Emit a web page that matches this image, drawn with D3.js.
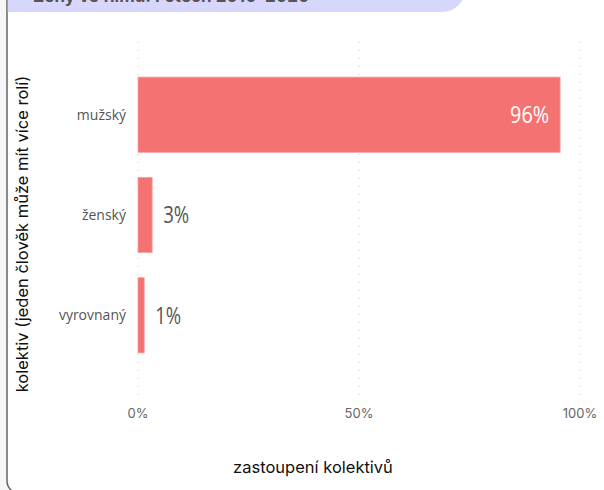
<!DOCTYPE html>
<html>
<head>
<meta charset="utf-8">
<script src="https://cdn.jsdelivr.net/npm/d3@7"></script>
<style>
  body { margin: 0; background: #f7f7f7; }
  #chart { width: 604px; height: 490px; overflow: hidden; }
</style>
</head>
<body>
<div id="chart"></div>
<script>
// data
var categories = ["mužský", "ženský", "vyrovnaný"];
var values = [95.5, 3.2, 1.4];
var valueLabels = ["96%", "3%", "1%"];
var tickValues = [0, 50, 100];
var tickLabels = ["0%", "50%", "100%"];

var svgWidth = 604;
var svgHeight = 490;

var margin = { top: 42, left: 138 };
var plotWidth = 442;
var bandHeight = 346;
var chartHeight = 359;

var svg = d3.select("#chart")
    .append("svg")
    .attr("width", svgWidth)
    .attr("height", svgHeight);

// card background with rounded bottom-left corner
svg.append("rect")
    .attr("x", 7)
    .attr("y", -30)
    .attr("width", 640)
    .attr("height", 523)
    .attr("rx", 12)
    .attr("fill", "#ffffff")
    .attr("stroke", "#666666")
    .attr("stroke-width", 1.5);

// title banner
svg.append("rect")
    .attr("x", 7.75)
    .attr("y", -40)
    .attr("width", 457)
    .attr("height", 52)
    .attr("rx", 22)
    .attr("fill", "#d7d7fd");
svg.append("rect")
    .attr("x", 7.75)
    .attr("y", -40)
    .attr("width", 60)
    .attr("height", 52)
    .attr("fill", "#d7d7fd");

svg.append("text")
    .attr("x", 33)
    .attr("y", 2)
    .attr("font-family", "Inter, sans-serif")
    .attr("font-size", 17)
    .attr("font-weight", 700)
    .attr("fill", "#555")
    .text("Ženy ve filmu: Fotech 2010–2020");

var chartGroup = svg.append("g")
    .attr("transform", `translate(${margin.left}, ${margin.top})`);

var xScale = d3.scaleLinear()
    .domain([0, 100])
    .range([0, plotWidth]);

var yScale = d3.scaleBand()
    .domain(categories)
    .range([0, bandHeight])
    .paddingInner(0.25)
    .paddingOuter(0.35);

// dotted gridlines
chartGroup.selectAll(".grid")
    .data(tickValues)
    .enter()
    .append("line")
    .attr("x1", d => xScale(d))
    .attr("x2", d => xScale(d))
    .attr("y1", 0)
    .attr("y2", chartHeight - 4)
    .attr("stroke", "#c8c8c8")
    .attr("stroke-width", 1)
    .attr("stroke-dasharray", "1,7");

// x tick labels
chartGroup.selectAll(".tick-label")
    .data(tickValues)
    .enter()
    .append("text")
    .attr("x", d => xScale(d))
    .attr("y", chartHeight + 17)
    .attr("text-anchor", "middle")
    .attr("font-family", "Inter, sans-serif")
    .attr("font-size", 13)
    .attr("fill", "#666")
    .text((d, i) => tickLabels[i]);

// bars
chartGroup.selectAll(".bar")
    .data(values)
    .enter()
    .append("rect")
    .attr("x", 0)
    .attr("y", (d, i) => yScale(categories[i]))
    .attr("width", d => xScale(d))
    .attr("height", yScale.bandwidth())
    .attr("fill", "#f47272")
    .attr("stroke", "#f8a0a0")
    .attr("stroke-width", 0.8);

// category labels
chartGroup.selectAll(".cat")
    .data(categories)
    .enter()
    .append("text")
    .attr("x", -12)
    .attr("y", d => yScale(d) + yScale.bandwidth() / 2)
    .attr("dy", "0.35em")
    .attr("text-anchor", "end")
    .attr("font-family", "Open Sans, sans-serif")
    .attr("font-size", 14)
    .attr("fill", "#555")
    .text(d => d);

// value labels (narrow face, so squeeze to width)
chartGroup.selectAll(".val")
    .data(values)
    .enter()
    .append("text")
    .attr("x", d => d > 50 ? xScale(d) - 11 : xScale(d) + 11)
    .attr("y", (d, i) => yScale(categories[i]) + yScale.bandwidth() / 2)
    .attr("dy", "0.35em")
    .attr("text-anchor", d => d > 50 ? "end" : "start")
    .attr("font-family", "Open Sans, sans-serif")
    .attr("font-size", 24)
    .attr("font-weight", 400)
    .attr("textLength", (d, i) => valueLabels[i].length === 3 ? 39 : 26)
    .attr("lengthAdjust", "spacingAndGlyphs")
    .attr("fill", d => d > 50 ? "#ffffff" : "#555")
    .text((d, i) => valueLabels[i]);

// axis titles
svg.append("text")
    .attr("x", 313)
    .attr("y", 473)
    .attr("text-anchor", "middle")
    .attr("font-family", "Inter, sans-serif")
    .attr("font-size", 16.5)
    .attr("fill", "#111")
    .text("zastoupení kolektivů");

svg.append("text")
    .attr("transform", "rotate(-90)")
    .attr("x", -234)
    .attr("y", 28)
    .attr("text-anchor", "middle")
    .attr("font-family", "Inter, sans-serif")
    .attr("font-size", 16.5)
    .attr("fill", "#111")
    .text("kolektiv (jeden člověk může mít více rolí)");
</script>
</body>
</html>
